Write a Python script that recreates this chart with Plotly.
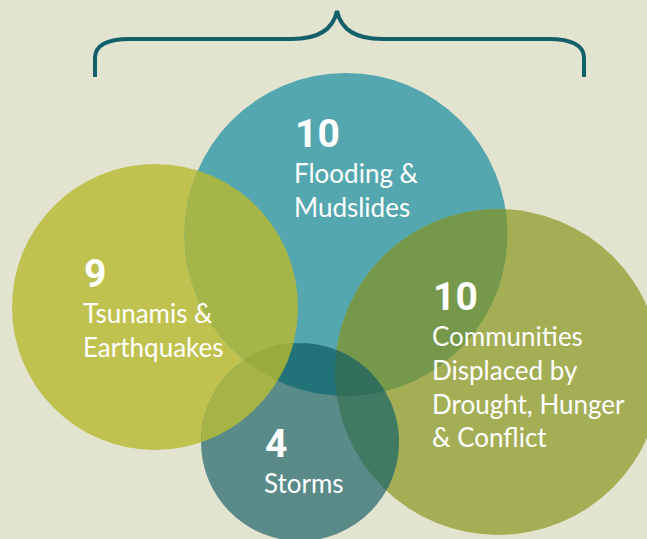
import numpy as np
import plotly.graph_objects as go

# ---------------- data ----------------
categories = ["Tsunamis &<br>Earthquakes", "Flooding &<br>Mudslides",
              "Communities<br>Displaced by<br>Drought, Hunger<br>& Conflict", "Storms"]
values = [9, 10, 10, 4]

# ---------------- layout / style ----------------
W, H = 647, 539
BG = "#e3e4d0"
circle_colors = ["#bfc24f", "#55a7af", "#a3ae55", "#5a8b89"]
centers = [(155, 307), (346, 234.5), (498, 372), (300, 442)]
radii = [143, 161.5, 163, 99]
# overlap fills: keys are tuples of circle indices
overlap_colors = {
    (0, 1): "#a6b548",
    (1, 2): "#75984a",
    (2, 3): "#417a62",
    (1, 3): "#22727a",
    (0, 3): "#a5b444",
    (0, 1, 3): "#9aab3e",
    (1, 2, 3): "#316f5a",
}
label_pos = [(84, 257), (295, 117), (433, 280), (265, 427)]  # top-left of number
BRACE = "#14606a"

fig = go.Figure()

# base circles
for (cx, cy), r, col in zip(centers, radii, circle_colors):
    fig.add_shape(type="circle", xref="x", yref="y", x0=cx - r, x1=cx + r,
                  y0=cy - r, y1=cy + r, fillcolor=col, line_width=0, layer="below")


def intersection_polygon(idx, n=1440):
    pts = []
    for i in idx:
        cx, cy = centers[i]
        r = radii[i]
        t = np.linspace(0, 2 * np.pi, n, endpoint=False)
        xs = cx + r * np.cos(t)
        ys = cy + r * np.sin(t)
        ok = np.ones(n, dtype=bool)
        for j in idx:
            if j == i:
                continue
            ox, oy = centers[j]
            ok &= (xs - ox) ** 2 + (ys - oy) ** 2 <= radii[j] ** 2 + 1e-6
        pts.extend(zip(xs[ok], ys[ok]))
    pts = np.array(pts)
    if len(pts) < 3:
        return None
    c = pts.mean(axis=0)
    ang = np.arctan2(pts[:, 1] - c[1], pts[:, 0] - c[0])
    pts = pts[np.argsort(ang)]
    return pts


for idx, col in sorted(overlap_colors.items(), key=lambda kv: len(kv[0])):
    poly = intersection_polygon(idx)
    if poly is None:
        continue
    xs = list(poly[:, 0]) + [poly[0, 0]]
    ys = list(poly[:, 1]) + [poly[0, 1]]
    fig.add_trace(go.Scatter(x=xs, y=ys, fill="toself", fillcolor=col, mode="lines",
                             line=dict(width=0, color=col), hoverinfo="skip", showlegend=False))

# brace
brace_path = ("M 95,77 L 95,58 Q 95,39 130,39 L 292,39 Q 331,39 337,11 "
              "Q 343,39 382,39 L 548,39 Q 584,39 584,58 L 584,77")
fig.add_shape(type="path", xref="x", yref="y", path=brace_path,
              line=dict(color=BRACE, width=4))

# labels
NUM_FONT = dict(family="Roboto", size=39, color="white", weight=700)
TXT_FONT = dict(family="Lato, Noto Sans, sans-serif", size=26, color="white")
for (x, y), v, name in zip(label_pos, values, categories):
    fig.add_annotation(x=x - 2, y=y - 8, xref="x", yref="y", text=str(v), showarrow=False,
                       xanchor="left", yanchor="top", font=NUM_FONT, align="left")
    fig.add_annotation(x=x - 3, y=y + 38, xref="x", yref="y", text=name, showarrow=False,
                       xanchor="left", yanchor="top", font=TXT_FONT, align="left")

fig.update_xaxes(range=[0, W], visible=False, fixedrange=True)
fig.update_yaxes(range=[H, 0], visible=False, fixedrange=True)
fig.update_layout(width=W, height=H, margin=dict(l=0, r=0, t=0, b=0),
                  paper_bgcolor=BG, plot_bgcolor=BG, showlegend=False)

fig.write_html("out.html", config={"displayModeBar": False},
               post_script="document.body.style.margin='0';")
